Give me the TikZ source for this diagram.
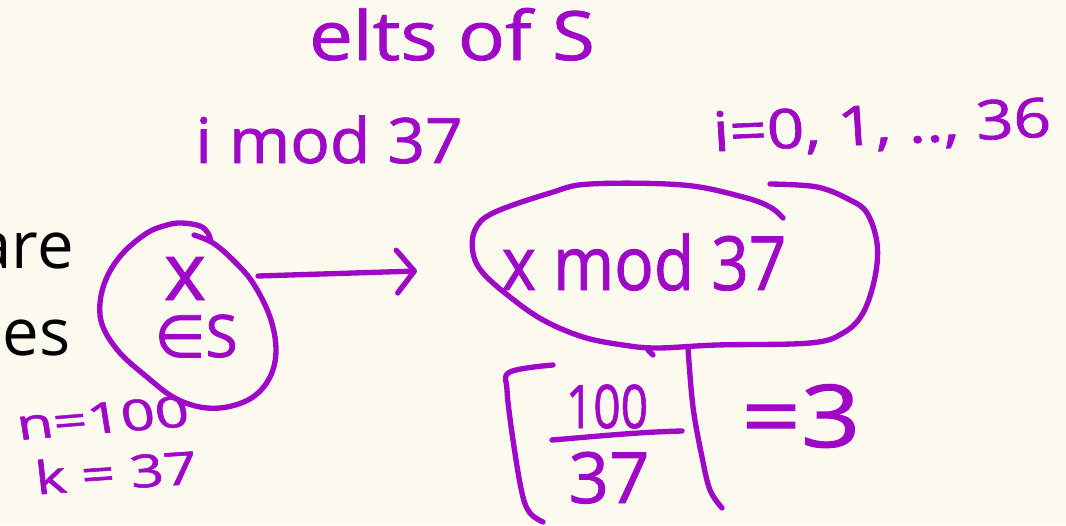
\documentclass[tikz,border=0pt]{standalone}
\usepackage{fontspec}
\setmainfont{Open Sans}
\newfontfamily\inkf[FakeBold=1.2]{Open Sans}
\newfontfamily\djv[FakeBold=1.2]{DejaVu Sans}
\usetikzlibrary{arrows.meta}
\definecolor{ink}{RGB}{160,8,200}
\definecolor{paper}{RGB}{252,250,238}
\newcommand\hfs[1]{\inkf\fontsize{#1}{#1}\selectfont}
\newcommand\sfs[1]{\fontsize{#1}{#1}\selectfont}
\tikzset{
  hw/.style={text=ink, inner sep=0pt, anchor=base, transform shape},
  pen/.style={draw=ink, line width=4pt, line cap=round, line join=round},
  slide/.style={text=black, inner sep=0pt, font=\sfs{49}},
}
\begin{document}
\begin{tikzpicture}[x=0.75pt, y=-0.75pt]
\fill[paper] (0,0) rectangle (1066,525);
\useasboundingbox (0,0) rectangle (1066,525);

% slide text (cut off at left)
\node[slide, anchor=base east] (are) at (74,268) {are};
\node[slide, anchor=base east] (les) at (71,355) {les};

% headings
\node[hw, font=\hfs{51}, xscale=1.15] (elts) at (452,60) {elts of S};
\node[hw, font=\hfs{47}, xscale=1.05] (imod) at (329,163) {i mod 37};
\node[hw, font=\hfs{41}, xscale=1.2, rotate=3] (irange) at (883,144) {i=0, 1, .., 36};

% left circle with x in S
\node[hw, font=\hfs{60}] (x) at (185,300) {x};
\node[hw, font=\hfs{44}] (inS) at (196,357) {{\djv ∈}S};
\draw[pen] plot[smooth, tension=0.6] coordinates {
 (194,235) (213,243) (233,260) (253,283) (270,317) (276,350) (270,377)
 (253,397) (227,407) (200,407) (173,397) (147,377) (120,353) (103,327)
 (100,303) (107,277) (123,253) (147,233) (167,225) (182,223) (200,226)
 (208,233) (211,242)};

% n and k
\node[hw, font=\hfs{32}, xscale=1.4, rotate=6.5] (n) at (105,433) {n=100};
\node[hw, font=\hfs{34}, xscale=1.3, rotate=5] (k) at (118,489) {k = 37};

% arrow
\coordinate (arrS) at (258,276);
\coordinate (arrE) at (417,271);
\draw[pen, -{Straight Barb[length=13pt, width=32pt, line width=4pt, round]}] (arrS) -- (arrE);

% right ellipse with x mod 37
\node[hw, font=\hfs{56}, xscale=0.88] (xmod) at (644,290) {x mod 37};
\draw[pen] plot[smooth, tension=0.6] coordinates {
 (783,218) (770,207) (743,197) (683,185) (590,184) (550,193) (493,213)
 (475,230) (473,253) (483,273) (510,297) (543,320) (583,337) (623,345)
 (657,348) (717,345) (810,343) (843,333) (863,313) (875,277) (877,243)
 (867,213) (850,200) (817,187) (770,184)};

% ceiling of 100/37
\draw[pen] plot[smooth, tension=0.6] coordinates {
 (553,365) (510,372) (507,390) (513,440) (522,493) (530,513) (543,522)};
\draw[pen] plot[smooth, tension=0.6] coordinates {
 (688,348) (693,407) (702,457) (710,490) (722,508)};
\draw[pen] (648,350) -- (653,355);
\node[hw, font=\hfs{45}, xscale=0.8] (num) at (607,428) {100};
\draw[pen] (552,440) .. controls (600,436) and (640,432) .. (682,431);
\node[hw, font=\hfs{53}] (den) at (609,503) {37};
\node[hw, font=\hfs{65}, xscale=1.2] (eq) at (801,447) {=3};
\end{tikzpicture}
\end{document}
